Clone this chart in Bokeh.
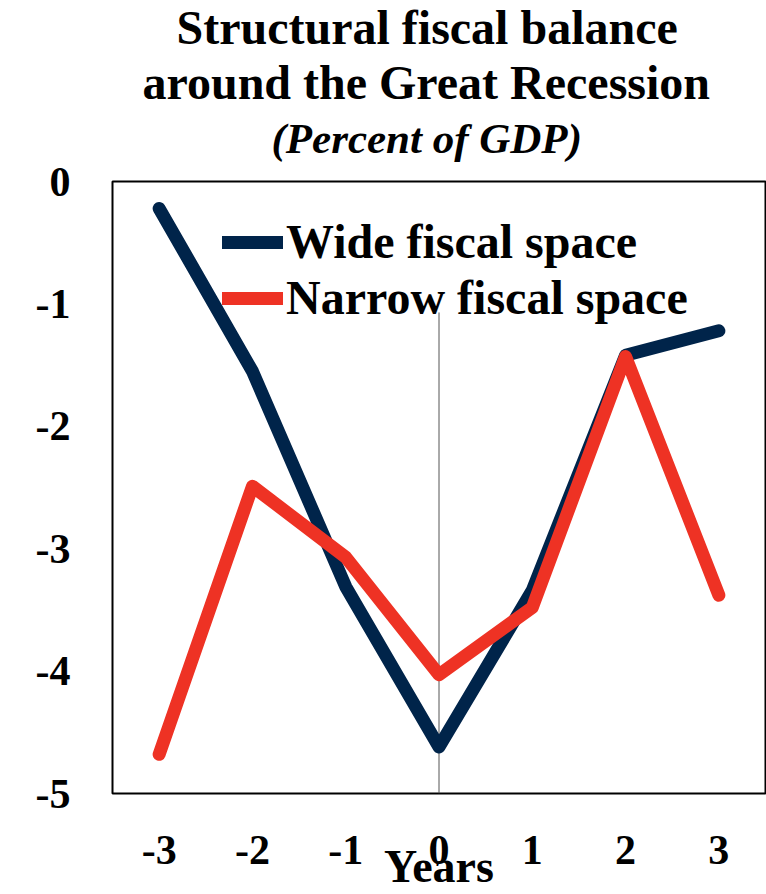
from bokeh.plotting import figure
from bokeh.models import Title, FixedTicker, Legend, LegendItem, Range1d
from bokeh.embed import file_html
from bokeh.resources import INLINE

years = [-3, -2, -1, 0, 1, 2, 3]
wide = [-0.22, -1.55, -3.31, -4.62, -3.34, -1.42, -1.22]
narrow = [-4.68, -2.49, -3.07, -4.03, -3.48, -1.43, -3.38]
y_ticks = [0, -1, -2, -3, -4, -5]

# vertical marker at year 0 (hidden behind the legend text above this level)
vline_x = [0]
vline_bottom = [-5]
vline_top = [-1.07]

FONT = "Liberation Serif"
NAVY = "#00244a"
RED = "#ee3224"

p = figure(width=766, height=894, output_backend="svg", toolbar_location=None,
           x_range=Range1d(-3.5, 3.5), y_range=Range1d(-5, 0),
           min_border_left=112, min_border_right=1, min_border_top=150, min_border_bottom=101)

p.outline_line_color = "black"
p.outline_line_width = 2
p.grid.visible = False
p.background_fill_color = "white"
p.border_fill_color = "white"

for ax in (p.xaxis[0], p.yaxis[0]):
    ax.axis_line_color = None
    ax.major_tick_line_color = None
    ax.minor_tick_line_color = None
    ax.major_label_text_font = FONT
    ax.major_label_text_font_style = "bold"
    ax.major_label_text_font_size = "42px"
    ax.major_label_text_color = "black"

p.xaxis.ticker = FixedTicker(ticks=years)
p.xaxis.major_label_overrides = {v: str(v) for v in years}
p.xaxis.major_label_standoff = 36
p.xaxis.axis_label = "Years"
p.xaxis.axis_label_text_font = FONT
p.xaxis.axis_label_text_font_style = "bold"
p.xaxis.axis_label_text_font_size = "46px"
p.xaxis.axis_label_text_color = "black"
p.xaxis.axis_label_standoff = -26

p.yaxis.ticker = FixedTicker(ticks=y_ticks)
p.yaxis.major_label_overrides = {v: str(v) for v in y_ticks}
p.yaxis.major_label_standoff = 36

p.segment(x0=vline_x, y0=vline_bottom, x1=vline_x, y1=vline_top,
          line_color="#555555", line_width=1)

r1 = p.line(years, wide, line_color=NAVY, line_width=13, line_cap="round", line_join="round")
r2 = p.line(years, narrow, line_color=RED, line_width=13, line_cap="round", line_join="round")

legend = Legend(items=[LegendItem(label="Wide fiscal space", renderers=[r1]),
                       LegendItem(label="Narrow fiscal space", renderers=[r2])],
                location=(110, 468), orientation="vertical",
                label_text_font=FONT, label_text_font_style="bold", label_text_font_size="48px",
                label_text_color="black",
                glyph_width=61, glyph_height=40, label_height=40, spacing=1,
                padding=0, margin=0, label_standoff=3,
                border_line_color=None, background_fill_alpha=0.0)
p.add_layout(legend)

# spacer between the plot box and the subtitle
p.add_layout(Title(text=" ", text_font=FONT, text_font_size="10px", standoff=5), "above")
p.add_layout(Title(text="(Percent of GDP)", text_font=FONT, text_font_style="bold italic",
                   text_color="black", text_font_size="43px", align="left", offset=159,
                   standoff=4), "above")
p.add_layout(Title(text="around the Great Recession", text_font=FONT, text_font_style="bold",
                   text_color="black", text_font_size="48px", align="left", offset=30,
                   standoff=4), "above")
p.add_layout(Title(text="Structural fiscal balance", text_font=FONT, text_font_style="bold",
                   text_color="black", text_font_size="48px", align="left", offset=64,
                   standoff=-4), "above")

open("out.html", "w").write(file_html(p, INLINE))
